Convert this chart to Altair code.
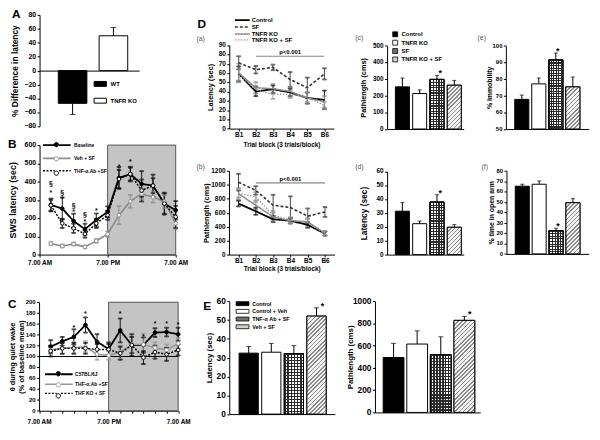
import math
import altair as alt
import pandas as pd

W, H = 592, 432
M = 8
FONT = "Liberation Sans"


def p(v):
    return v - M


# ======================= DATA =======================
a_groups = ["WT", "TNFR KO"]
a_values = [-47, 50]
a_errors = [16, 12]
a_ticks = [-80, -60, -40, -20, 0, 20, 40, 60, 80]

b_hours = [2, 4, 6, 8, 10, 12, 14, 16, 18, 20, 22, 24]
b_series = ["Baseline", "Veh + SF", "THF-\u03b1.Ab +SF"]
b_baseline = [272, 252, 184, 139, 190, 234, 420, 441, 387, 378, 279, 243]
b_baseline_err = [35, 60, 40, 30, 35, 30, 60, 35, 70, 60, 55, 50]
b_veh = [60, 47, 58, 42, 75, 112, 216, 292, 333, 315, 290, 171]
b_veh_err = [8, 8, 8, 8, 10, 15, 50, 35, 30, 30, 35, 30]
b_thf = [270, 171, 144, 113, 171, 216, 414, 441, 351, 378, 279, 207]
b_thf_err = [30, 25, 25, 20, 25, 25, 50, 40, 60, 40, 60, 60]
b_mark_hours = [2, 2, 4, 4, 6, 6, 8, 8, 10, 14, 16]
b_mark_values = [385, 335, 340, 305, 268, 232, 214, 180, 240, 480, 505]
b_mark_text = ["\u00a7", "*", "\u00a7", "*", "\u00a7", "*", "\u00a7", "*", "*", "*", "*"]
b_ticks = [0, 100, 200, 300, 400, 500, 600]

c_series = ["C57BL/6J", "THF-\u03b1.Ab +SF", "THF KO + SF"]
c_c57 = [118, 128, 136, 158, 127, 114, 148, 121, 121, 144, 145, 141]
c_c57_err = [12, 8, 14, 14, 14, 12, 22, 20, 14, 8, 8, 12]
c_ab = [112, 115, 116, 118, 104, 102, 108, 122, 122, 116, 112, 124]
c_ab_err = [8, 10, 10, 10, 10, 8, 12, 15, 20, 10, 10, 10]
c_ko = [110, 115, 115, 115, 113, 113, 106, 121, 98, 108, 104, 112]
c_ko_err = [10, 10, 10, 10, 10, 10, 12, 15, 12, 12, 12, 10]
c_mark_hours = [6, 8, 14, 18, 20, 22, 24]
c_mark_values = [152, 178, 178, 135, 160, 160, 158]
c_ticks = [0, 20, 40, 60, 80, 100, 120, 140, 160, 180, 200]

d_blocks = ["B1", "B2", "B3", "B4", "B5", "B6"]
d_series = ["Control", "SF", "TNFR KO", "TNFR KO + SF"]
da_ctrl = [59, 40, 42.5, 39, 33, 31]
da_ctrl_err = [8, 5, 4, 4, 6, 10]
da_sf = [71, 63.5, 66, 53, 44, 59]
da_sf_err = [7, 4, 3, 8, 11, 6]
da_ko = [60, 44, 43, 40, 33, 29]
da_ko_err = [10, 6, 5, 5, 6, 6]
da_kosf = [58, 42, 37, 37, 34, 25]
da_kosf_err = [6, 4, 5, 4, 5, 4]
da_ticks = [0, 10, 20, 30, 40, 50, 60, 70, 80, 90]
db_ctrl = [730, 620, 505, 485, 425, 300]
db_ctrl_err = [40, 50, 40, 40, 40, 30]
db_sf = [1035, 918, 706, 673, 550, 610]
db_sf_err = [120, 60, 150, 160, 110, 70]
db_ko = [870, 706, 541, 485, 470, 306]
db_ko_err = [80, 70, 60, 40, 50, 30]
db_kosf = [880, 824, 565, 494, 456, 296]
db_kosf_err = [60, 70, 60, 40, 50, 30]
db_ticks = [0, 200, 400, 600, 800, 1000, 1200]
d_p_level_a = 78
d_p_level_b = 1026

bar_groups = ["Control", "TNFR KO", "SF", "TNFR KO + SF"]
bar_sig = ["", "", "*", ""]
c_path = [253, 213, 298, 263]
c_path_err = [53, 22, 24, 29]
c_path_ticks = [0, 100, 200, 300, 400, 500]
e_immob = [67.8, 77.1, 91.5, 75.3]
e_immob_err = [2.6, 3.5, 4.1, 5.9]
e_immob_ticks = [50, 60, 70, 80, 90, 100]
d_lat = [31.3, 22.3, 37.9, 19.7]
d_lat_err = [6.2, 1.9, 5.3, 1.9]
d_lat_ticks = [0, 10, 20, 30, 40, 50, 60]
f_open = [65.1, 67.0, 22.4, 49.3]
f_open_err = [1.9, 3.2, 2.3, 3.8]
f_open_ticks = [0, 10, 20, 30, 40, 50, 60, 70, 80]

e_groups = ["Control", "Control + Veh", "TNF-\u03b1 Ab + SF", "Veh + SF"]
e_sig = ["", "", "", "*"]
E_lat = [32.4, 32.9, 32.2, 52.1]
E_lat_err = [3.5, 4.7, 4.2, 4.4]
E_lat_ticks = [0, 10, 20, 30, 40, 50, 60]
E_path = [494, 615, 518, 828]
E_path_err = [127, 119, 162, 36]
E_path_ticks = [0, 200, 400, 600, 800, 1000]

BAR_FILL = ["black", "white", "#6f6f6f", "#cfcfcf"]


# ======================= HELPERS =======================
def y_axis(xpage, values, title, tpad, tfs=7.5):
    return alt.Axis(orient="left", offset=-p(xpage), values=values, title=title,
                    titlePadding=tpad, minExtent=0, maxExtent=0, labels=False,
                    titleFontSize=tfs)


def ytick_text(values, ys, xpage, fs):
    return alt.Chart(pd.DataFrame({"v": values})).mark_text(
        align="right", baseline="middle", fontSize=fs, fontWeight="bold", color="black").encode(
        x=alt.value(p(xpage) - 3.5), y=alt.Y("v:Q", scale=ys, axis=None),
        text=alt.Text("v:Q", format="d"))


def x_axis_domain(ypage):
    return alt.Axis(orient="bottom", offset=p(ypage) - H, labels=False,
                    ticks=False, title=None)


def stripe_grad(n, frac, line, bg, x2, y2):
    stops = []
    for i in range(n):
        a = i / n
        b = (i + frac) / n
        c = (i + 1) / n
        stops += [alt.GradientStop(color=line, offset=a), alt.GradientStop(color=line, offset=b),
                  alt.GradientStop(color=bg, offset=b), alt.GradientStop(color=bg, offset=c)]
    return alt.LinearGradient(gradient="linear", stops=stops, x1=0, y1=0, x2=x2, y2=y2)


def bar_panel(groups, values, errors, sig, xpage, ypage, ydom, yvals, ytitle, tpad,
              pad_in, pad_out, align, lfs, tfs, legend=None, cap=4, star_fs=9, period=2.6):
    df = pd.DataFrame({"g": groups, "v": values, "e": errors, "s": sig})
    df["tip"] = df["v"] + df["e"]
    df["base"] = ydom[0]
    xs = alt.Scale(domain=groups, range=[p(xpage[0]), p(xpage[1])],
                   paddingInner=pad_in, paddingOuter=pad_out, align=align)
    ys = alt.Scale(domain=ydom, range=[p(ypage[0]), p(ypage[1])], nice=False, zero=False)
    base = alt.Chart(df)
    X = alt.X("g:N", scale=xs, axis=None)
    bars = base.mark_bar(stroke="black", strokeWidth=1).encode(
        x=alt.X("g:N", scale=xs, axis=x_axis_domain(ypage[0])),
        y=alt.Y("v:Q", scale=ys, axis=y_axis(xpage[0], yvals, ytitle, tpad, tfs)),
        y2="base:Q",
        fill=alt.Fill("g:N", scale=alt.Scale(domain=groups, range=BAR_FILL), legend=legend),
    )
    step = (xpage[1] - xpage[0]) / (len(groups) - pad_in + 2 * pad_out)
    bw = step * (1 - pad_in)
    span = ypage[0] - ypage[1]

    def bh(k):
        return max(1.0, (values[k] - ydom[0]) / (ydom[1] - ydom[0]) * span)

    g3, g4 = groups[2], groups[3]
    h3, h4 = bh(2), bh(3)
    vgrad = stripe_grad(max(1, round(bw / period)), 0.42, "#2a2a2a", "#ffffff", 1, 0)
    hgrad = stripe_grad(max(1, round(h3 / period)), 0.42, "#2a2a2a", "rgba(255,255,255,0)", 0, 1)
    n4 = int(math.ceil((bw * bw + h4 * h4) / (bw * 1.414 * 3.0)))
    dgrad = stripe_grad(max(1, n4), 0.38, "#8c8c8c", "#f4f4f4", 1, h4 / bw)
    sel3 = base.transform_filter(alt.datum.g == g3)
    sel4 = base.transform_filter(alt.datum.g == g4)
    cross1 = sel3.mark_bar(fill=vgrad, stroke="black", strokeWidth=1).encode(
        x=X, y=alt.Y("v:Q", scale=ys, axis=None), y2="base:Q")
    cross2 = sel3.mark_bar(fill=hgrad, stroke="black", strokeWidth=1).encode(
        x=X, y=alt.Y("v:Q", scale=ys, axis=None), y2="base:Q")
    diag = sel4.mark_bar(fill=dgrad, stroke="black", strokeWidth=1).encode(
        x=X, y=alt.Y("v:Q", scale=ys, axis=None), y2="base:Q")
    err = base.mark_rule(color="black", strokeWidth=1).encode(
        x=X, y=alt.Y("v:Q", scale=ys, axis=None), y2="tip:Q")
    caps = base.mark_tick(color="black", size=cap, thickness=1, orient="horizontal").encode(
        x=X, y=alt.Y("tip:Q", scale=ys, axis=None))
    star = base.transform_filter("datum.s != ''").mark_text(
        fontSize=star_fs, fontWeight="bold", baseline="bottom", dy=3).encode(
        x=X, y=alt.Y("tip:Q", scale=ys, axis=None), text="s:N")
    ticks = ytick_text(yvals, ys, xpage[0], lfs)
    return [bars, cross1, cross2, diag, err, caps, star, ticks]


def long_df(xs_vals, series, vals, errs):
    rows = []
    for s, v, e in zip(series, vals, errs):
        for x, vv, ee in zip(xs_vals, v, e):
            rows.append({"x": x, "s": s, "v": vv, "lo": vv - ee, "hi": vv + ee})
    return pd.DataFrame(rows)


def line_layers(df, xtype, xs, ys, xax, yax, series, strokes, dashes, widths,
                line_legend=None, fills=None, pt_legend=None, cap=4, psize=14):
    base = alt.Chart(df)
    sc_stroke = alt.Scale(domain=series, range=strokes)
    sc_dash = alt.Scale(domain=series, range=dashes)
    sc_w = alt.Scale(domain=series, range=widths)
    xf = "x:" + xtype
    err = base.mark_rule(strokeWidth=0.9).encode(
        x=alt.X(xf, scale=xs, axis=None),
        y=alt.Y("lo:Q", scale=ys, axis=None), y2="hi:Q",
        stroke=alt.Stroke("s:N", scale=sc_stroke, legend=None))
    cap_lo = base.mark_tick(size=cap, thickness=0.9, orient="horizontal").encode(
        x=alt.X(xf, scale=xs, axis=None), y=alt.Y("lo:Q", scale=ys, axis=None),
        stroke=alt.Stroke("s:N", scale=sc_stroke, legend=None))
    cap_hi = base.mark_tick(size=cap, thickness=0.9, orient="horizontal").encode(
        x=alt.X(xf, scale=xs, axis=None), y=alt.Y("hi:Q", scale=ys, axis=None),
        stroke=alt.Stroke("s:N", scale=sc_stroke, legend=None))
    line = base.mark_line().encode(
        x=alt.X(xf, scale=xs, axis=xax),
        y=alt.Y("v:Q", scale=ys, axis=yax),
        stroke=alt.Stroke("s:N", scale=sc_stroke, legend=line_legend),
        strokeDash=alt.StrokeDash("s:N", scale=sc_dash, legend=line_legend),
        strokeWidth=alt.StrokeWidth("s:N", scale=sc_w, legend=line_legend))
    layers = [err, cap_lo, cap_hi, line]
    if fills is not None:
        pts = base.mark_point(filled=True, shape="circle", size=psize, strokeWidth=1,
                              opacity=1).encode(
            x=alt.X(xf, scale=xs, axis=None),
            y=alt.Y("v:Q", scale=ys, axis=None),
            fill=alt.Fill("s:N", scale=alt.Scale(domain=series, range=fills), legend=pt_legend),
            stroke=alt.Stroke("s:N", scale=sc_stroke, legend=pt_legend))
        layers.append(pts)
    return layers


def label(t, xpage, ypage, fs=12, weight="bold", color="black"):
    return alt.Chart(pd.DataFrame({"t": [t]})).mark_text(
        align="left", baseline="top", fontSize=fs, fontWeight=weight, color=color).encode(
        x=alt.value(p(xpage)), y=alt.value(p(ypage)), text="t:N")


LINE_ONLY = "M-7,0H-1.1M1.1,0H7"
CIRCLE = "M1.1,0A1.1,1.1,0,1,1,-1.1,0A1.1,1.1,0,1,1,1.1,0"


def line_legend_pair(xc, yc, lfs, loff, rpad):
    common = dict(orient="none", legendX=p(xc) - 2, legendY=p(yc) - 4, title=None,
                  symbolSize=16, labelFontSize=lfs, labelFontWeight="bold",
                  labelOffset=loff, rowPadding=rpad, padding=0)
    l1 = alt.Legend(symbolType=LINE_ONLY, symbolStrokeWidth=1.3, **common)
    l2 = alt.Legend(symbolType=CIRCLE, symbolStrokeWidth=1, labelOpacity=0,
                    labelExpr="' '", **common)
    return l1, l2


# ======================= PANEL A =======================
dfA = pd.DataFrame({"g": a_groups, "v": a_values, "e": a_errors})
dfA["tip"] = [v + e if v > 0 else v - e for v, e in zip(a_values, a_errors)]
dfA["zero"] = 0
xsA = alt.Scale(domain=a_groups, range=[p(40), p(141)], paddingInner=0.3,
                paddingOuter=0.37, align=0.62)
ysA = alt.Scale(domain=[-80, 80], range=[p(125), p(12)], nice=False, zero=False)
legA = alt.Legend(orient="none", legendX=p(100.5) - 2, legendY=p(83) - 4, title=None,
                  symbolType="M-3.1,-1.25H3.1V1.25H-3.1Z", symbolSize=16,
                  symbolStrokeColor="black", symbolStrokeWidth=1, labelFontSize=6,
                  labelFontWeight="bold", labelOffset=7.5, rowPadding=7, padding=0)
baseA = alt.Chart(dfA)
barsA = baseA.mark_bar(stroke="black", strokeWidth=1).encode(
    x=alt.X("g:N", scale=xsA, axis=x_axis_domain(68.5)),
    y=alt.Y("v:Q", scale=ysA, axis=y_axis(40, a_ticks, "% Difference in latency", 20.5, 8.5)),
    y2="zero:Q",
    fill=alt.Fill("g:N", scale=alt.Scale(domain=a_groups, range=["black", "white"]),
                  legend=legA))
errA = baseA.mark_rule(color="black", strokeWidth=1).encode(
    x=alt.X("g:N", scale=xsA, axis=None), y=alt.Y("v:Q", scale=ysA, axis=None), y2="tip:Q")
capA = baseA.mark_tick(color="black", size=6, thickness=1, orient="horizontal").encode(
    x=alt.X("g:N", scale=xsA, axis=None), y=alt.Y("tip:Q", scale=ysA, axis=None))
panelA = [barsA, errA, capA, ytick_text(a_ticks, ysA, 40, 7)]

# ======================= PANEL B =======================
dfB = long_df(b_hours, b_series, [b_baseline, b_veh, b_thf],
              [b_baseline_err, b_veh_err, b_thf_err])
xsB = alt.Scale(domain=[0, 24], range=[p(40), p(178)], nice=False, zero=False)
ysB = alt.Scale(domain=[0, 600], range=[p(255), p(144)], nice=False, zero=False)
axXB = alt.Axis(orient="bottom", offset=p(255) - H, values=[0, 12, 24], title=None,
                labelExpr="datum.value == 12 ? '7.00 PM' : '7.00 AM'", labelFontSize=6.5,
                labelPadding=3)
axYB = y_axis(40, b_ticks, "SWS latency (sec)", 22, 9)
lB1, lB2 = line_legend_pair(56.5, 145, 5, 14.5, 5.5)
shadeB = alt.Chart(pd.DataFrame({"x0": [12], "x1": [24], "y0": [0], "y1": [600]})).mark_rect(
    fill="#c4c4c4", stroke="#555555", strokeWidth=1).encode(
    x=alt.X("x0:Q", scale=xsB, axis=None), x2="x1:Q",
    y=alt.Y("y0:Q", scale=ysB, axis=None), y2="y1:Q")
marksB = alt.Chart(pd.DataFrame({"x": b_mark_hours, "v": b_mark_values, "t": b_mark_text})).mark_text(
    fontSize=7, fontWeight="bold", color="black").encode(
    x=alt.X("x:Q", scale=xsB, axis=None), y=alt.Y("v:Q", scale=ysB, axis=None), text="t:N")
panelB = [shadeB] + line_layers(
    dfB, "Q", xsB, ysB, axXB, axYB, b_series, ["black", "#8c8c8c", "black"],
    [[1, 0], [1, 0], [2, 1.5]], [1.8, 1.5, 1.4], lB1,
    fills=["black", "white", "white"], pt_legend=lB2, cap=4) + [
    marksB, ytick_text(b_ticks, ysB, 40, 7)]

# ======================= PANEL C =======================
dfC = long_df(b_hours, c_series, [c_c57, c_ab, c_ko], [c_c57_err, c_ab_err, c_ko_err])
xsC = alt.Scale(domain=[0, 24], range=[p(39.5), p(180.5)], nice=False, zero=False)
ysC = alt.Scale(domain=[0, 200], range=[p(413.3), p(303.3)], nice=False, zero=False)
axXC = alt.Axis(orient="bottom", offset=p(413.3) - H, values=list(range(0, 25, 2)), title=None,
                labelExpr="datum.value == 12 ? '7.00 PM' : (datum.value % 24 == 0 ? '7.00 AM' : '')",
                labelFontSize=6.5, labelPadding=5)
axYC = y_axis(39.5, c_ticks, ["\u03b8 during quiet wake", "(% of baseline mean)"], 13.5, 7.5)
lC1, lC2 = line_legend_pair(58.5, 377.3, 5, 13.5, 2.2)
shadeC = alt.Chart(pd.DataFrame({"x0": [12], "x1": [24], "y0": [0], "y1": [200]})).mark_rect(
    fill="#c4c4c4", stroke="#555555", strokeWidth=1).encode(
    x=alt.X("x0:Q", scale=xsC, axis=None), x2="x1:Q",
    y=alt.Y("y0:Q", scale=ysC, axis=None), y2="y1:Q")
refC = alt.Chart(pd.DataFrame({"x0": [0], "x1": [24], "y": [100]})).mark_rule(
    color="black", strokeWidth=1).encode(
    x=alt.X("x0:Q", scale=xsC, axis=None), x2="x1:Q", y=alt.Y("y:Q", scale=ysC, axis=None))
marksC = alt.Chart(pd.DataFrame({"x": c_mark_hours, "v": c_mark_values, "t": ["*"] * len(c_mark_hours)})).mark_text(
    fontSize=7, fontWeight="bold", color="black").encode(
    x=alt.X("x:Q", scale=xsC, axis=None), y=alt.Y("v:Q", scale=ysC, axis=None), text="t:N")
panelC = [shadeC, refC] + line_layers(
    dfC, "Q", xsC, ysC, axXC, axYC, c_series, ["black", "#9a9a9a", "black"],
    [[1, 0], [1, 0], [2, 1.5]], [1.8, 1.5, 1.3], lC1,
    fills=["black", "white", "white"], pt_legend=lC2, cap=4) + [
    marksC, ytick_text(c_ticks, ysC, 39.5, 6)]

# ======================= PANEL D (a) =======================
D_STROKES = ["black", "#333333", "#8a8a8a", "#9a9a9a"]
D_DASHES = [[1, 0], [3, 2], [1, 0], [1.5, 1.5]]
D_WIDTHS = [1.8, 1.3, 1.3, 1.3]
dfDa = long_df(d_blocks, d_series, [da_ctrl, da_sf, da_ko, da_kosf],
               [da_ctrl_err, da_sf_err, da_ko_err, da_kosf_err])
xsDa = alt.Scale(type="point", domain=d_blocks, range=[p(232.3), p(338.3)], padding=0.55)
ysDa = alt.Scale(domain=[0, 90], range=[p(127.3), p(42.7)], nice=False, zero=False)
axXDa = alt.Axis(orient="bottom", offset=p(127.3) - H, title="Trial block (3 trials/block)",
                 titleY=16, titleBaseline="middle", titleFontSize=6.5, labelFontSize=6.5,
                 labelAngle=0)
axYDa = y_axis(232.3, da_ticks, "Latency  (sec)", 14.5, 7.5)
legD = alt.Legend(orient="none", legendX=p(244.5) - 2, legendY=p(18.3) - 4, title=None,
                  symbolType="M-3.75,0H3.75", symbolSize=16,
                  labelFontSize=6, labelFontWeight="bold", labelOffset=6.5,
                  rowPadding=-1, padding=0)
pDa = pd.DataFrame({"x0": ["B2"], "x1": ["B6"], "xm": ["B4"], "y": [d_p_level_a], "t": ["p<0.001"]})
pruleDa = alt.Chart(pDa).mark_rule(color="#888888", strokeWidth=1.2).encode(
    x=alt.X("x0:O", scale=xsDa, axis=None), x2="x1:O", y=alt.Y("y:Q", scale=ysDa, axis=None))
ptextDa = alt.Chart(pDa).mark_text(fontSize=6, fontWeight="bold", baseline="bottom", dy=-1).encode(
    x=alt.X("xm:O", scale=xsDa, axis=None), y=alt.Y("y:Q", scale=ysDa, axis=None), text="t:N")
panelDa = line_layers(dfDa, "O", xsDa, ysDa, axXDa, axYDa, d_series, D_STROKES,
                      D_DASHES, D_WIDTHS, legD, cap=4) + [
    pruleDa, ptextDa, ytick_text(da_ticks, ysDa, 232.3, 6.5)]

# ======================= PANEL D (b) =======================
dfDb = long_df(d_blocks, d_series, [db_ctrl, db_sf, db_ko, db_kosf],
               [db_ctrl_err, db_sf_err, db_ko_err, db_kosf_err])
xsDb = alt.Scale(type="point", domain=d_blocks, range=[p(232), p(339)], padding=0.55)
ysDb = alt.Scale(domain=[0, 1200], range=[p(255), p(170)], nice=False, zero=False)
axXDb = alt.Axis(orient="bottom", offset=p(255) - H, title="Trial block (3 trials/block)",
                 titleY=14, titleBaseline="middle", titleFontSize=6.5, labelFontSize=6.5,
                 labelAngle=0)
axYDb = y_axis(232, db_ticks, "Pathlength (cms)", 19, 7.5)
pDb = pd.DataFrame({"x0": ["B2"], "x1": ["B6"], "xm": ["B4"], "y": [d_p_level_b], "t": ["p<0.001"]})
pruleDb = alt.Chart(pDb).mark_rule(color="#888888", strokeWidth=1.2).encode(
    x=alt.X("x0:O", scale=xsDb, axis=None), x2="x1:O", y=alt.Y("y:Q", scale=ysDb, axis=None))
ptextDb = alt.Chart(pDb).mark_text(fontSize=6, fontWeight="bold", baseline="bottom", dy=-1).encode(
    x=alt.X("xm:O", scale=xsDb, axis=None), y=alt.Y("y:Q", scale=ysDb, axis=None), text="t:N")
panelDb = line_layers(dfDb, "O", xsDb, ysDb, axXDb, axYDb, d_series, D_STROKES,
                      D_DASHES, D_WIDTHS, None, cap=4) + [
    pruleDb, ptextDb, ytick_text(db_ticks, ysDb, 232, 6.5)]

# ======================= BAR PANELS (c)-(f), E =======================
legc = alt.Legend(orient="none", legendX=p(400) - 2.5, legendY=p(32.7) - 4, title=None,
                  symbolType="square", symbolSize=25, symbolStrokeColor="black",
                  symbolStrokeWidth=0.8, labelFontSize=6, labelFontWeight="bold",
                  labelOffset=3.5, rowPadding=-1.5, padding=0)
panel_c = bar_panel(bar_groups, c_path, c_path_err, bar_sig, (392.3, 470), (127.7, 43.3),
                    [0, 500], c_path_ticks, "Pathlength (cms)", 20,
                    0.19, 0.31, 0.77, 6.5, 7.5, legend=legc)
panel_e = bar_panel(bar_groups, e_immob, e_immob_err, bar_sig, (512.7, 596.7), (127.7, 43.3),
                    [50, 100], e_immob_ticks, "% Immobility", 13.5,
                    0.17, 0.52, 0.5, 6, 7)
panel_d = bar_panel(bar_groups, d_lat, d_lat_err, bar_sig, (392.3, 470), (255, 170.7),
                    [0, 60], d_lat_ticks, "Latency (sec)", 18.5,
                    0.19, 0.31, 0.77, 6.5, 8.5)
panel_f = bar_panel(bar_groups, f_open, f_open_err, bar_sig, (513.3, 596.7), (254.3, 170),
                    [0, 80], f_open_ticks, "% time in open arm", 12.5,
                    0.17, 0.52, 0.5, 6, 7)
legE = alt.Legend(orient="none", legendX=p(245) - 2, legendY=p(306) - 4, title=None,
                  symbolType="M-3.25,-1H3.25V1H-3.25Z", symbolSize=16,
                  symbolStrokeColor="black", symbolStrokeWidth=0.8, labelFontSize=5.5,
                  labelFontWeight="bold", labelOffset=7, rowPadding=-0.2, padding=0)
panel_E1 = bar_panel(e_groups, E_lat, E_lat_err, e_sig, (232.3, 339.3), (416.7, 302.3),
                     [0, 60], E_lat_ticks, "Latency (sec)", 16,
                     0.15, 0.41, 0.53, 8.5, 8, legend=legE, cap=5, period=3.0)
panel_E2 = bar_panel(e_groups, E_path, E_path_err, e_sig, (380, 486.7), (415, 302.3),
                     [0, 1000], E_path_ticks, "Pathlength (cms)", 21,
                     0.12, 0.29, 0.6, 8.5, 8, cap=5, period=3.0)

# ======================= LABELS =======================
labels = [
    label("A", 12, 6), label("B", 8, 138), label("C", 8, 300),
    label("D", 200, 16), label("E", 206, 302),
    label("(a)", 199, 32, 7, "normal", "#555555"),
    label("(b)", 199, 162, 7, "normal", "#555555"),
    label("(c)", 360, 31, 7, "normal", "#555555"),
    label("(e)", 484, 31, 7, "normal", "#555555"),
    label("(d)", 360, 162, 7, "normal", "#555555"),
    label("(f)", 488, 162, 7, "normal", "#555555"),
]

units = (panelA + panelB + panelC + panelDa + panelDb + panel_c + panel_e + panel_d
         + panel_f + panel_E1 + panel_E2 + labels)

chart = alt.layer(*units).resolve_scale(
    x="independent", y="independent", fill="independent", stroke="independent",
    strokeDash="independent", strokeWidth="independent"
).properties(
    width=W, height=H, autosize=alt.AutoSizeParams(type="none"), padding=0
).configure(
    font=FONT, background="white"
).configure_view(
    stroke=None
).configure_axis(
    labelFont=FONT, titleFont=FONT, labelFontWeight="bold", titleFontWeight="bold",
    labelColor="black", titleColor="black", domainColor="black", tickColor="black",
    grid=False, tickSize=2.5, labelPadding=1, domainWidth=1, tickWidth=1,
    labelFlush=False, labelOverlap=False
).configure_legend(
    labelFont=FONT, labelColor="black"
)

chart.save("out.html", embed_options={"renderer": "svg", "actions": False})
